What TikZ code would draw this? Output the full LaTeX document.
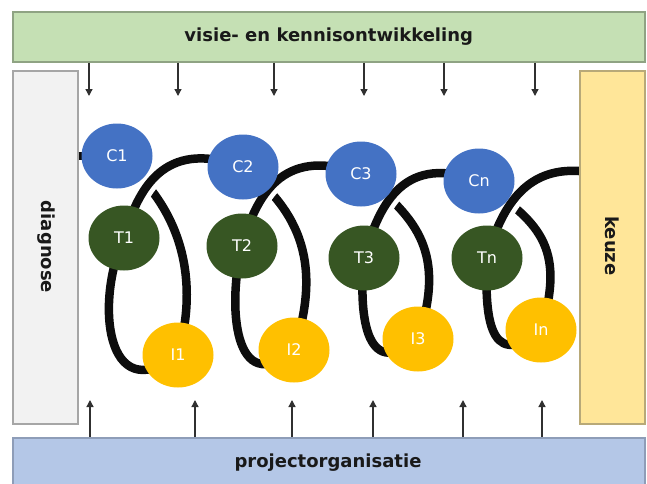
\documentclass[tikz,border=0pt]{standalone}
\usepackage{fontspec}
\setmainfont{DejaVu Sans}
\usetikzlibrary{shapes.geometric,arrows.meta,calc}
\definecolor{barGreen}{HTML}{C5E0B4}
\definecolor{barGreenLine}{HTML}{8FA383}
\definecolor{diagFill}{HTML}{F2F2F2}
\definecolor{diagLine}{HTML}{A6A6A6}
\definecolor{keuzeFill}{HTML}{FFE699}
\definecolor{keuzeLine}{HTML}{B8A978}
\definecolor{barBlue}{HTML}{B4C7E7}
\definecolor{barBlueLine}{HTML}{8E9DB8}
\definecolor{cBlue}{HTML}{4472C4}
\definecolor{tGreen}{HTML}{375623}
\definecolor{iGold}{HTML}{FFC000}
\definecolor{arrowGray}{HTML}{303030}
\begin{document}
\begin{tikzpicture}[x=1pt,y=-1pt,
  panel/.style={draw=#1, line width=1.5pt, rectangle, inner sep=0pt, anchor=north west},
  barlabel/.style={font=\fontsize{18}{18}\selectfont\bfseries, text=black!90},
  ball/.style={ellipse, fill=#1, draw=none, minimum width=71pt, minimum height=65pt, inner sep=0pt,
    text=white, font=\fontsize{16}{16}\selectfont},
  coil/.style={line width=8.5pt, draw=black!95},
  frontarc/.style={coil, preaction={draw=white, line width=18pt}},
  arr/.style={draw=arrowGray, line width=1.3pt, -{Triangle[length=7pt,width=7pt]}}
]
\useasboundingbox (0,0) rectangle (647,483);

% bars
\node[panel=barGreenLine, fill=barGreen, minimum width=632pt, minimum height=50pt] (visie) at (12,11) {};
\node[barlabel] (visietext) at (visie.center) {visie- en kennisontwikkeling};
\node[panel=barBlueLine, fill=barBlue, minimum width=632pt, minimum height=52pt] (proj) at (12,437) {};
\node[barlabel] (projtext) at (328,463) {projectorganisatie};

% arrows
\foreach \x [count=\i] in {89,178,274,364,444,535} {
  \coordinate (ta\i) at (\x,96);
  \draw[arr] (visie.south -| ta\i) -- (ta\i);
}
\foreach \x [count=\i] in {90,195,292,373,463,542} {
  \coordinate (ba\i) at (\x,400);
  \draw[arr] (proj.north -| ba\i) -- (ba\i);
}

% ball positions
\coordinate (pC1) at (117,156);
\coordinate (pC2) at (243,167);
\coordinate (pC3) at (361,174);
\coordinate (pCn) at (479,181);
\coordinate (pT1) at (124,238);
\coordinate (pT2) at (242,246);
\coordinate (pT3) at (364,258);
\coordinate (pTn) at (487,258);
\coordinate (pI1) at (178,355);
\coordinate (pI2) at (294,350);
\coordinate (pI3) at (418,339);
\coordinate (pIn) at (541,330);
\coordinate (kz) at (579,171);

% back segments of the coil (C -> I)
\draw[coil] (pC1) .. controls ($(pC1)+(58,45)$) and ($(pI1)+(24,-85)$) .. (pI1);
\draw[coil] (pC2) .. controls ($(pC2)+(58,45)$) and ($(pI2)+(28,-85)$) .. (pI2);
\draw[coil] (pC3) .. controls ($(pC3)+(58,45)$) and ($(pI3)+(28,-85)$) .. (pI3);
\draw[coil] (pCn) .. controls ($(pCn)+(58,40)$) and ($(pIn)+(26,-85)$) .. (pIn);

% front segments (I -> T)
\draw[coil] (pI1) .. controls ($(pI1)+(-73,55)$) and ($(pT1)+(-29,62)$) .. (pT1);
\draw[coil] (pI2) .. controls ($(pI2)+(-60,50)$) and ($(pT2)+(-15,60)$) .. (pT2);
\draw[coil] (pI3) .. controls ($(pI3)+(-55,45)$) and ($(pT3)+(-5,50)$) .. (pT3);
\draw[coil] (pIn) .. controls ($(pIn)+(-55,45)$) and ($(pTn)+(-2,50)$) .. (pTn);

% front arcs (T -> next C)
\draw[frontarc] (pT1) .. controls ($(pT1)+(16,-58)$) and ($(pC2)+(-73,-27)$) .. (pC2);
\draw[frontarc] (pT2) .. controls ($(pT2)+(16,-58)$) and ($(pC3)+(-73,-27)$) .. (pC3);
\draw[frontarc] (pT3) .. controls ($(pT3)+(16,-58)$) and ($(pCn)+(-73,-27)$) .. (pCn);
\draw[frontarc] (pTn) .. controls ($(pTn)+(16,-58)$) and ($(kz)+(-49,-3)$) .. (kz);

% side boxes (drawn over coil ends)
\node[panel=diagLine, fill=diagFill, minimum width=65pt, minimum height=353pt] (diag) at (12,70) {};
\node[barlabel, rotate=-90] (diagtext) at (46,247) {diagnose};
\node[panel=keuzeLine, fill=keuzeFill, minimum width=65pt, minimum height=353pt] (keuze) at (579,70) {};
\node[barlabel, rotate=-90] (keuzetext) at (612,246) {keuze};

% stub from diagnose to C1
\draw[coil] (diag.east |- pC1) -- (pC1);

% balls
\node[ball=cBlue] (C1) at (pC1) {C1};
\node[ball=cBlue] (C2) at (pC2) {C2};
\node[ball=cBlue] (C3) at (pC3) {C3};
\node[ball=cBlue] (Cn) at (pCn) {Cn};
\node[ball=tGreen] (T1) at (pT1) {T1};
\node[ball=tGreen] (T2) at (pT2) {T2};
\node[ball=tGreen] (T3) at (pT3) {T3};
\node[ball=tGreen] (Tn) at (pTn) {Tn};
\node[ball=iGold] (I1) at (pI1) {I1};
\node[ball=iGold] (I2) at (pI2) {I2};
\node[ball=iGold] (I3) at (pI3) {I3};
\node[ball=iGold] (In) at (pIn) {In};
\end{tikzpicture}
\end{document}
